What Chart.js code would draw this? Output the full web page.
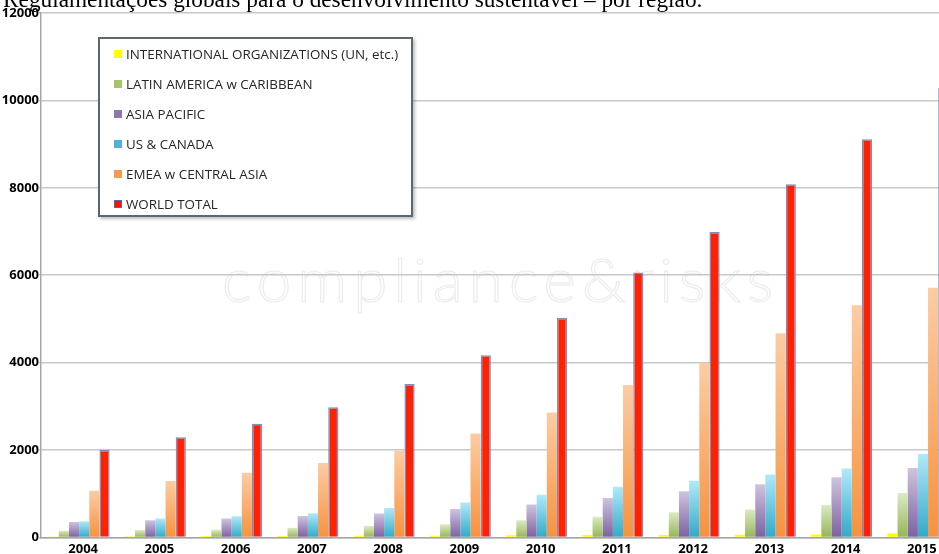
<!DOCTYPE html>
<html>
<head>
<meta charset="utf-8">
<script src="https://cdn.jsdelivr.net/npm/chart.js@4/dist/chart.umd.min.js"></script>
<style>
  body { margin: 0; background: #fff; }
  #wrap { position: relative; width: 939px; height: 554px; overflow: hidden; }
  #mark {
    position: absolute; left: 222px; top: 238px; white-space: nowrap;
    font: 300 62px/80px Lato, sans-serif; letter-spacing: 6px;
    color: #fff; -webkit-text-stroke: 1.2px #ececec;
  }
  #box { position: absolute; left: 0; top: 0; width: 956px; height: 561px; }
  #title {
    position: absolute; left: 3px; top: -13px; white-space: nowrap;
    font: 23.3px/24px "Liberation Serif", "Times New Roman", serif; color: #000;
  }
  #legend {
    position: absolute; left: 98px; top: 37px; width: 315px; height: 180px;
    box-sizing: border-box; border: 2px solid #5d6770; background: #fff;
    box-shadow: 2px 2px 3px rgba(0,0,0,0.25);
    font: 13.4px "Open Sans", sans-serif; color: #262626;
  }
  #legend div { height: 30px; line-height: 30px; white-space: nowrap; }
  #legend span.mk {
    display: inline-block; width: 8px; height: 8px; margin: 0 4px 0 14px;
    vertical-align: middle; position: relative; top: -1px; box-sizing: border-box;
  }
</style>
</head>
<body>
<div id="wrap">
  <div id="mark">compliance&amp;risks</div>
  <div id="box"><canvas id="chart"></canvas></div>
  <div id="title">Regulamentações globais para o desenvolvimento sustentável – por região.</div>
  <div id="legend"></div>
</div>
<script>
const years = ['2004', '2005', '2006', '2007', '2008', '2009', '2010', '2011', '2012', '2013', '2014', '2015'];

const intlOrgs = [20, 25, 30, 30, 40, 40, 50, 55, 55, 60, 65, 95];
const latinAmerica = [150, 170, 175, 220, 260, 300, 390, 470, 575, 640, 750, 1015];
const asiaPacific = [355, 395, 435, 490, 545, 650, 755, 900, 1055, 1215, 1375, 1590];
const usCanada = [370, 435, 485, 555, 675, 800, 975, 1160, 1295, 1440, 1575, 1910];
const emea = [1070, 1290, 1480, 1700, 1990, 2380, 2860, 3490, 3990, 4670, 5310, 5715];
const worldTotal = [2000, 2290, 2600, 2980, 3510, 4170, 5020, 6060, 6990, 8080, 9110, 10290];

const yTicks = { min: 0, max: 12000, step: 2000 };

// light at the top of each bar, darker at its foot (like the Excel fill)
function barGradient(light, dark) {
  return function(ctx) {
    const chart = ctx.chart;
    if (!chart.chartArea || ctx.type !== 'data') return dark;
    const y = chart.scales.y;
    const top = y.getPixelForValue(ctx.raw);
    const bottom = y.getPixelForValue(0);
    if (bottom - top < 2) return dark;
    const g = chart.ctx.createLinearGradient(0, top, 0, bottom);
    g.addColorStop(0, light);
    g.addColorStop(1, dark);
    return g;
  };
}

const series = [
  { label: 'INTERNATIONAL ORGANIZATIONS (UN, etc.)', data: intlOrgs, fill: '#ffff00', mark: '#ffff00' },
  { label: 'LATIN AMERICA w CARIBBEAN', data: latinAmerica, fill: barGradient('#dbeac4', '#95b655'), mark: '#a6c46a' },
  { label: 'ASIA PACIFIC', data: asiaPacific, fill: barGradient('#cfc3e0', '#7c61a0'), mark: '#8e76b0' },
  { label: 'US & CANADA', data: usCanada, fill: barGradient('#b0e9fa', '#32a9c8'), mark: '#4fb4d2' },
  { label: 'EMEA w CENTRAL ASIA', data: emea, fill: barGradient('#fcccA4', '#f7923e'), mark: '#f59a55' },
  { label: 'WORLD TOTAL', data: worldTotal, fill: '#ff2200', mark: '#ff1100' }
];

const chart = new Chart(document.getElementById('chart'), {
  type: 'bar',
  data: {
    labels: years,
    datasets: series.map(s => ({
      label: s.label,
      data: s.data,
      backgroundColor: s.fill,
      borderColor: s.label === 'WORLD TOTAL' ? '#7f8cc4' : 'rgba(0,0,0,0)',
      borderWidth: s.label === 'WORLD TOTAL' ? 1.5 : 0,
      categoryPercentage: 0.8,
      barPercentage: 1.0
    }))
  },
  options: {
    responsive: true,
    maintainAspectRatio: false,
    animation: false,
    layout: { padding: { top: 13, left: 0, right: 0, bottom: 0 } },
    plugins: {
      legend: { display: false },
      title: { display: false },
      tooltip: { enabled: false }
    },
    scales: {
      x: {
        offset: true,
        grid: { display: false, drawTicks: false },
        border: { color: '#a6a6a6', width: 1.5 },
        ticks: {
          padding: 4,
          color: '#000',
          labelOffset: 4,
          font: { family: 'Open Sans', size: 13, weight: 'bold', lineHeight: 1.2 }
        }
      },
      y: {
        min: yTicks.min,
        max: yTicks.max,
        afterFit: function(scale) { scale.width = 41; },
        grid: { color: '#c8c8c8', lineWidth: 1.5, drawTicks: true, tickLength: 2 },
        border: { color: '#a6a6a6', width: 1.5 },
        ticks: {
          stepSize: yTicks.step,
          padding: 0,
          color: '#000',
          font: { family: 'Open Sans', size: 13, weight: 'bold' },
          callback: v => String(v)
        }
      }
    }
  }
});

const legend = document.getElementById('legend');
chart.data.datasets.forEach((ds, i) => {
  const row = document.createElement('div');
  const mk = document.createElement('span');
  mk.className = 'mk';
  mk.style.background = series[i].mark;
  if (ds.label === 'WORLD TOTAL') mk.style.border = '1px solid #4f66b8';
  row.appendChild(mk);
  row.appendChild(document.createTextNode(ds.label));
  legend.appendChild(row);
});
</script>
</body>
</html>
